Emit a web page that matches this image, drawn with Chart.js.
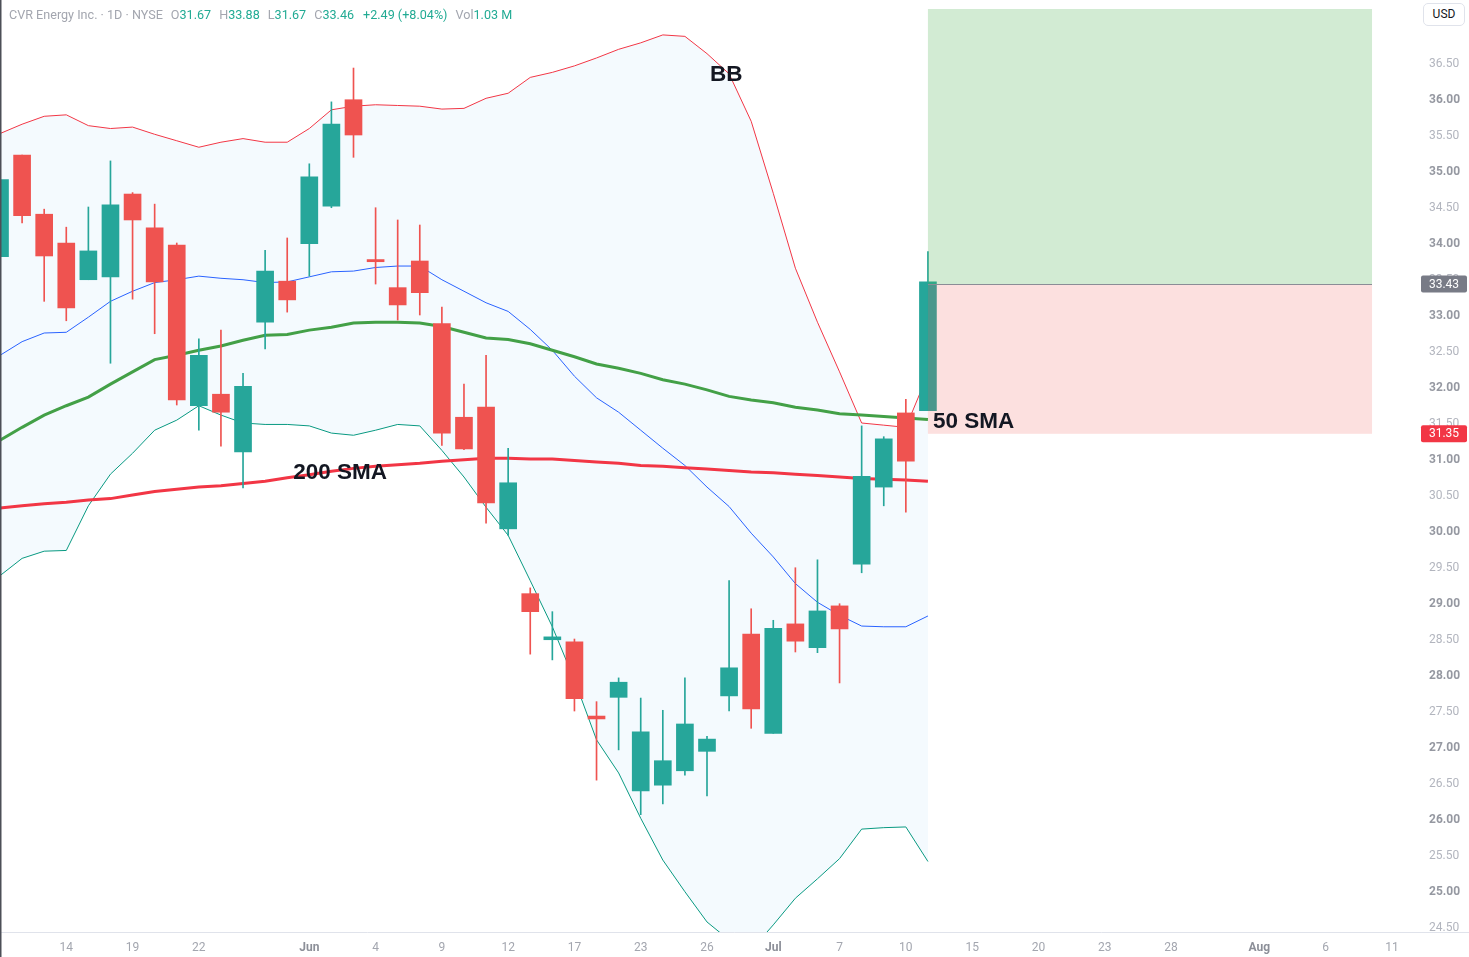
<!DOCTYPE html>
<html>
<head>
<meta charset="utf-8">
<title>CVR Energy Inc. 1D</title>
<script src="https://cdn.jsdelivr.net/npm/chart.js@4.4.1/dist/chart.umd.min.js"></script>
<style>
  html, body { margin: 0; padding: 0; background: #fff; }
  #wrap { position: relative; width: 1469px; height: 957px; overflow: hidden; }
  #legend {
    position: absolute; left: 9px; top: 7px; line-height: 16px;
    font: 12.6px Roboto, "Liberation Sans", sans-serif; color: #a3a6af; white-space: nowrap;
  }
  #legend .k { margin-left: 8px; }
  #legend .v { color: #22ab94; }
  #legend .chg { margin-left: 9px; color: #22ab94; }
  #usd {
    position: absolute; left: 1423px; top: 3px; width: 42px; height: 23px;
    border: 1px solid #e0e3eb; border-radius: 5px; box-sizing: border-box;
    font: 12px Roboto, "Liberation Sans", sans-serif; color: #131722;
    text-align: center; line-height: 21px; background: #fff;
  }
</style>
</head>
<body>
<div id="wrap">
  <canvas id="priceChart"></canvas>
  <div id="legend"><span>CVR Energy Inc. · 1D · NYSE</span><span class="k">O</span><span class="v">31.67</span><span class="k">H</span><span class="v">33.88</span><span class="k">L</span><span class="v">31.67</span><span class="k">C</span><span class="v">33.46</span><span class="chg">+2.49 (+8.04%)</span><span class="k">Vol</span><span class="v">1.03 M</span></div>
  <div id="usd">USD</div>
</div>
<script>
// daily candles, oldest first (last one = today)
const candleOpen  = [33.81,35.22,34.40,34.00,33.49,33.53,34.68,34.21,33.97,31.74,31.90,31.10,32.90,33.47,33.99,34.51,35.99,33.77,33.38,33.75,32.88,31.58,31.72,30.03,29.13,28.49,28.46,27.43,27.69,26.39,26.47,26.67,26.94,27.71,28.57,27.19,28.71,28.38,28.96,29.54,30.61,31.64,31.67];
const candleHigh  = [34.95,35.22,34.47,34.22,34.50,35.14,34.70,34.54,34.00,32.67,32.79,32.19,33.90,34.07,35.10,35.96,36.43,34.49,34.32,34.25,33.11,32.04,32.44,31.15,29.21,28.88,28.50,27.63,27.96,27.68,27.51,27.96,27.15,29.31,28.92,28.76,29.49,29.60,28.99,31.46,31.31,31.83,33.88];
const candleLow   = [33.75,34.28,33.19,32.92,33.49,32.33,33.22,32.74,31.75,31.40,31.18,30.60,32.53,33.04,33.54,34.49,35.19,33.43,32.93,33.00,31.19,31.13,30.11,29.94,28.29,28.21,27.50,26.54,26.96,26.06,26.21,26.61,26.32,27.50,27.26,27.19,28.32,28.31,27.89,29.42,30.35,30.26,31.67];
const candleClose = [34.88,34.38,33.82,33.10,33.89,34.53,34.32,33.46,31.82,32.44,31.65,32.01,33.61,33.21,34.92,35.65,35.50,33.74,33.14,33.31,31.36,31.14,30.39,30.67,28.88,28.53,27.67,27.39,27.90,27.21,26.81,27.32,27.11,28.10,27.53,28.65,28.47,28.89,28.64,30.76,31.28,30.97,33.46];

// indicators
const bbUpper  = [35.52,35.65,35.76,35.78,35.63,35.59,35.61,35.51,35.42,35.33,35.40,35.45,35.40,35.40,35.59,35.85,35.90,35.92,35.91,35.90,35.86,35.87,36.01,36.08,36.30,36.37,36.46,36.57,36.69,36.78,36.89,36.87,36.63,36.35,35.69,34.69,33.65,32.90,32.21,31.50,31.47,31.44,32.18];
const bbMiddle = [32.44,32.63,32.75,32.76,32.97,33.19,33.33,33.45,33.49,33.54,33.51,33.49,33.45,33.46,33.53,33.60,33.61,33.66,33.68,33.68,33.49,33.33,33.17,33.05,32.80,32.51,32.15,31.85,31.65,31.40,31.15,30.91,30.61,30.34,29.97,29.64,29.27,29.01,28.83,28.68,28.67,28.67,28.82];
const bbLower  = [29.38,29.62,29.72,29.73,30.35,30.79,31.08,31.40,31.54,31.74,31.61,31.50,31.48,31.48,31.46,31.36,31.33,31.40,31.48,31.46,31.12,30.75,30.33,29.94,29.31,28.67,27.93,27.10,26.64,26.01,25.43,24.99,24.57,24.32,24.18,24.53,24.90,25.17,25.45,25.86,25.88,25.89,25.41];
const sma50    = [31.26,31.44,31.61,31.74,31.86,32.04,32.21,32.38,32.44,32.51,32.57,32.65,32.72,32.73,32.79,32.83,32.89,32.90,32.90,32.89,32.84,32.76,32.68,32.66,32.60,32.51,32.42,32.32,32.26,32.19,32.10,32.04,31.96,31.87,31.82,31.78,31.72,31.68,31.63,31.61,31.59,31.57,31.55];
const sma200   = [30.32,30.35,30.38,30.40,30.43,30.45,30.50,30.55,30.58,30.61,30.63,30.66,30.69,30.74,30.78,30.83,30.87,30.90,30.92,30.94,30.97,30.99,31.01,31.01,31.00,31.00,30.98,30.96,30.94,30.91,30.90,30.88,30.86,30.84,30.82,30.81,30.79,30.77,30.75,30.73,30.72,30.71,30.69];

// axes
const priceTicks = [24.5,25,25.5,26,26.5,27,27.5,28,28.5,29,29.5,30,30.5,31,31.5,32,32.5,33,33.5,34,34.5,35,35.5,36,36.5];
const dateTickIndex = [3,6,9,14,17,20,23,26,29,32,35,38,41,44,47,50,53,57,60,63];
const dateTickText  = ['14','19','22','Jun','4','9','12','17','23','26','Jul','7','10','15','20','23','28','Aug','6','11'];
const monthTicks = ['Jun','Jul','Aug'];

// long position drawing
const posFrom = 42, posTo = 62.1;
const posTarget = 37.25, posEntry = 33.43, posStop = 31.35;

// text notes on the chart
const noteText  = ['BB', '200 SMA', '50 SMA'];
const noteIndex = [32.87, 15.39, 44.07];
const notePrice = [36.33, 30.81, 31.51];

const UP = '#26a69a', DOWN = '#ef5350';
const candleColors = candleClose.map((c, i) => c >= candleOpen[i] ? UP : DOWN);
const pts = arr => arr.map((v, i) => ({x: i, y: v}));

function roundBox(ctx, x, y, w, h, r){
  ctx.beginPath();
  ctx.moveTo(x+r, y); ctx.lineTo(x+w-r, y); ctx.quadraticCurveTo(x+w, y, x+w, y+r);
  ctx.lineTo(x+w, y+h-r); ctx.quadraticCurveTo(x+w, y+h, x+w-r, y+h);
  ctx.lineTo(x+r, y+h); ctx.quadraticCurveTo(x, y+h, x, y+h-r);
  ctx.lineTo(x, y+r); ctx.quadraticCurveTo(x, y, x+r, y);
  ctx.closePath();
}

const overlay = {
  id: 'overlay',
  afterDatasetsDraw(chart){
    const {ctx, scales: {x, y}} = chart;
    const x1 = x.getPixelForValue(posFrom), x2 = x.getPixelForValue(posTo);
    const yT = y.getPixelForValue(posTarget), yE = y.getPixelForValue(posEntry), yS = y.getPixelForValue(posStop);
    ctx.save();
    // profit / loss zones
    ctx.fillStyle = 'rgba(76,175,80,0.25)';
    ctx.fillRect(x1, yT, x2 - x1, yE - yT);
    ctx.fillStyle = 'rgba(239,83,80,0.18)';
    ctx.fillRect(x1, yE, x2 - x1, yS - yE);
    ctx.strokeStyle = '#8a8d96'; ctx.lineWidth = 1;
    ctx.beginPath(); ctx.moveTo(x1, Math.round(yE) + 0.5); ctx.lineTo(x2, Math.round(yE) + 0.5); ctx.stroke();

    // notes
    ctx.fillStyle = '#131722';
    ctx.font = 'bold 22.5px "Liberation Sans", Arial, sans-serif';
    ctx.textAlign = 'center'; ctx.textBaseline = 'middle';
    noteText.forEach((t, i) => {
      ctx.fillText(t, x.getPixelForValue(noteIndex[i]), y.getPixelForValue(notePrice[i]));
    });
    ctx.restore();
  },
  afterDraw(chart){
    const {ctx, chartArea, scales: {y}} = chart;
    ctx.save();
    // bottom axis line
    ctx.strokeStyle = '#e0e3eb'; ctx.lineWidth = 1;
    ctx.beginPath(); ctx.moveTo(0, chartArea.bottom - 0.5); ctx.lineTo(chart.width, chartArea.bottom - 0.5); ctx.stroke();
    // left window edge
    ctx.fillStyle = '#4c4f57';
    ctx.fillRect(0, 0, 1.5, chart.height);

    // price labels on the axis
    const boxes = [[posEntry, '#787b86'], [posStop, '#f23645']];
    ctx.font = '12px Roboto, "Liberation Sans", sans-serif';
    ctx.textAlign = 'center'; ctx.textBaseline = 'middle';
    boxes.forEach(([v, col]) => {
      const py = y.getPixelForValue(v);
      ctx.fillStyle = col;
      roundBox(ctx, 1421, py - 8.5, 46, 17, 2);
      ctx.fill();
      ctx.fillStyle = '#fff';
      ctx.fillText(v.toFixed(2), 1444, py + 0.5);
    });
    ctx.restore();
  }
};

const lineDs = (label, data, color, width, order) => ({
  type: 'line', label, data: pts(data), borderColor: color, borderWidth: width,
  pointRadius: 0, tension: 0, fill: false, order
});

const upperDs = lineDs('BB upper', bbUpper, '#f23645', 1, 7);
upperDs.fill = {target: 2};
upperDs.backgroundColor = 'rgba(33,150,243,0.05)';

new Chart(document.getElementById('priceChart'), {
  type: 'bar',
  data: {
    datasets: [
      upperDs,
      lineDs('BB basis', bbMiddle, '#2962ff', 1, 6),
      lineDs('BB lower', bbLower, '#089981', 1, 5),
      lineDs('50 SMA', sma50, '#43a047', 3, 3),
      lineDs('200 SMA', sma200, '#f23645', 3, 2),
      {
        label: 'wick', data: candleLow.map((l, i) => ({x: i, y: [l, candleHigh[i]]})),
        backgroundColor: candleColors, barThickness: 1, grouped: false, order: 1
      },
      {
        label: 'body', data: candleOpen.map((o, i) => ({x: i, y: [o, candleClose[i]]})),
        backgroundColor: candleColors, barThickness: 17, grouped: false, order: 0
      }
    ]
  },
  options: {
    responsive: true, maintainAspectRatio: false, animation: false,
    layout: { padding: 0 },
    plugins: {
      legend: { display: false },
      tooltip: { enabled: false },
      filler: { drawTime: 'beforeDatasetsDraw' }
    },
    scales: {
      x: {
        type: 'linear', min: 0, max: 64, offset: false,
        grid: { display: false, drawTicks: false, offset: false },
        border: { display: false },
        afterFit: s => { s.height = 24; s.paddingLeft = 0; s.paddingRight = 0; },
        afterBuildTicks: s => { s.ticks = dateTickIndex.map(v => ({value: v})); },
        ticks: {
          autoSkip: false, maxRotation: 0, padding: 8,
          callback: v => dateTickText[dateTickIndex.indexOf(v)],
          color: c => monthTicks.includes(dateTickText[c.index]) ? '#8c8f98' : '#a3a6af',
          font: c => ({ size: 12, family: 'Roboto, "Liberation Sans", sans-serif',
                        weight: monthTicks.includes(dateTickText[c.index]) ? 'bold' : 'normal' })
        }
      },
      y: {
        type: 'linear', position: 'right', min: 24.417, max: 37.375,
        grid: { display: false, drawTicks: false },
        border: { display: false },
        afterFit: s => { s.width = 55; s.paddingTop = 0; s.paddingBottom = 0; },
        afterBuildTicks: s => { s.ticks = priceTicks.map(v => ({value: v})); },
        ticks: {
          padding: 15, labelOffset: 1,
          callback: v => v.toFixed(2),
          color: c => c.tick && c.tick.value % 1 === 0 ? '#9598a1' : '#b2b5be',
          font: c => ({ size: 12, family: 'Roboto, "Liberation Sans", sans-serif',
                        weight: c.tick && c.tick.value % 1 === 0 ? 'bold' : 'normal' })
        }
      }
    }
  },
  plugins: [overlay]
});
</script>
</body>
</html>
